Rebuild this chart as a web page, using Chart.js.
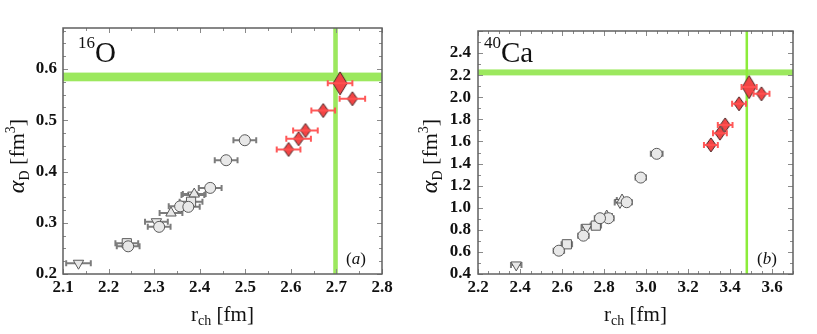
<!DOCTYPE html>
<html><head><meta charset="utf-8">
<script src="https://cdn.jsdelivr.net/npm/chart.js@4/dist/chart.umd.min.js"></script>
<style>
html,body{margin:0;padding:0;background:#fff;}
#wrap{position:relative;width:817px;height:334px;overflow:hidden;}
canvas{position:absolute;top:0;}
</style></head><body>
<div id="wrap">
<canvas id="c1" width="410" height="334" style="left:0"></canvas>
<canvas id="c2" width="407" height="334" style="left:410px"></canvas>
</div>
<script>
// ================= DATA: panel (a) 16O =================
const oTicksX = [2.1, 2.2, 2.3, 2.4, 2.5, 2.6, 2.7, 2.8];
const oTicksY = [0.2, 0.3, 0.4, 0.5, 0.6];
const oRedX    = [2.708, 2.735, 2.671, 2.632, 2.617, 2.595];
const oRedY    = [0.572, 0.542, 0.519, 0.480, 0.464, 0.443];
const oRedErr  = [0.027, 0.028, 0.026, 0.027, 0.027, 0.026];
const oCircX   = [2.499, 2.458, 2.423, 2.357, 2.375, 2.311, 2.243];
const oCircY   = [0.461, 0.422, 0.368, 0.332, 0.331, 0.292, 0.254];
const oCircErr = [0.025, 0.025, 0.025, 0.025, 0.025, 0.025, 0.025];
const oSqX     = [2.381, 2.240];
const oSqY     = [0.341, 0.260];
const oSqErr   = [0.025, 0.025];
const oUpX     = [2.337, 2.388];
const oUpY     = [0.319, 0.356];
const oUpErr   = [0.025, 0.025];
const oDnX     = [2.134, 2.305, 2.385];
const oDnY     = [0.221, 0.302, 0.354];
const oDnErr   = [0.027, 0.025, 0.025];
const oBandY   = [0.576, 0.593];
const oBandX   = [2.693, 2.703];

// ================= DATA: panel (b) 40Ca =================
const cTicksX = [2.2, 2.4, 2.6, 2.8, 3.0, 3.2, 3.4, 3.6];
const cTicksY = [0.4, 0.6, 0.8, 1.0, 1.2, 1.4, 1.6, 1.8, 2.0, 2.2, 2.4];
const cRedX    = [3.491, 3.550, 3.443, 3.377, 3.352, 3.309];
const cRedY    = [2.092, 2.031, 1.941, 1.750, 1.675, 1.569];
const cRedErr  = [0.036, 0.038, 0.033, 0.035, 0.033, 0.033];
const cCircX   = [3.051, 2.975, 2.908, 2.821, 2.781, 2.702, 2.585];
const cCircY   = [1.488, 1.273, 1.050, 0.905, 0.905, 0.747, 0.611];
const cCircErr = [0.028, 0.025, 0.025, 0.025, 0.025, 0.025, 0.025];
const cSqX     = [2.623, 2.761];
const cSqY     = [0.669, 0.838];
const cSqErr   = [0.025, 0.025];
const cUpX     = [2.886, 2.813];
const cUpY     = [1.070, 0.925];
const cUpErr   = [0.025, 0.025];
const cDnX     = [2.382, 2.718, 2.876];
const cDnY     = [0.482, 0.823, 1.048];
const cDnErr   = [0.025, 0.025, 0.025];
const cBandY   = [2.198, 2.252];
const cBandX   = [3.474, 3.486];

// ================= helpers =================
const SERIF = '"Liberation Serif", "DejaVu Serif", serif';
const GRAY_FILL = '#e8e8e8', GRAY_LINE = '#5a5a5a';
const RED_FILL = '#f24545', RED_LINE = '#4a2626', RED_ERR = 'rgba(255,80,80,0.95)', GRAY_ERR = '#7c7c7c';

function makeDiamond(w, h) {
  const c = document.createElement('canvas');
  c.width = w + 2; c.height = h + 2;
  const g = c.getContext('2d');
  g.beginPath();
  g.moveTo(c.width / 2, 1); g.lineTo(w + 1, c.height / 2);
  g.lineTo(c.width / 2, h + 1); g.lineTo(1, c.height / 2); g.closePath();
  g.fillStyle = RED_FILL; g.fill();
  g.lineWidth = 1; g.strokeStyle = RED_LINE; g.stroke();
  return c;
}
const bigDia = makeDiamond(14, 23);
const smallDia = makeDiamond(10, 14);

function pts(xs, ys) { return xs.map((x, i) => ({ x: x, y: ys[i] })); }

function grayDs(label, xs, ys, errs, style, r, rot) {
  return { label, data: pts(xs, ys), xerr: errs, pointStyle: style, pointRadius: r,
    rotation: rot || 0, backgroundColor: GRAY_FILL, borderColor: GRAY_LINE, borderWidth: 1,
    pointHoverRadius: r, showLine: false };
}
function redDs(xs, ys, errs) {
  return { label: 'red', red: true, data: pts(xs, ys), xerr: errs,
    pointStyle: xs.map((x, i) => i === 0 ? bigDia : smallDia), pointRadius: 6,
    backgroundColor: RED_FILL, borderColor: RED_LINE, showLine: false };
}

function drawRich(ctx, parts, x, y, align) {
  let w = 0;
  parts.forEach(p => { ctx.font = (p[3] || '') + ' ' + p[1] + 'px ' + SERIF; p.w = ctx.measureText(p[0]).width; w += p.w; });
  let cx = align === 'left' ? x : x - w / 2;
  ctx.textAlign = 'left'; ctx.textBaseline = 'alphabetic'; ctx.fillStyle = '#111';
  parts.forEach(p => { ctx.font = (p[3] || '') + ' ' + p[1] + 'px ' + SERIF; ctx.fillText(p[0], cx, y + p[2]); cx += p.w; });
}

function drawErr(chart, d) {
  const { ctx, scales: { x, y } } = chart;
  ctx.save();
  ctx.strokeStyle = d.red ? RED_ERR : GRAY_ERR; ctx.lineWidth = 2;
  d.data.forEach((p, j) => {
    const e = d.xerr[j];
    const xa = x.getPixelForValue(p.x - e), xb = x.getPixelForValue(p.x + e), py = y.getPixelForValue(p.y);
    ctx.beginPath();
    ctx.moveTo(xa, py); ctx.lineTo(xb, py);
    ctx.moveTo(xa, py - 3); ctx.lineTo(xa, py + 3);
    ctx.moveTo(xb, py - 3); ctx.lineTo(xb, py + 3);
    ctx.stroke();
  });
  ctx.restore();
}

function decoPlugin(o) {
  return {
    id: 'deco',
    beforeDatasetsDraw(chart) {
      const { ctx, chartArea: a, scales: { x, y } } = chart;
      ctx.save();
      ctx.beginPath(); ctx.rect(a.left, a.top, a.right - a.left, a.bottom - a.top); ctx.clip();
      const y0 = y.getPixelForValue(o.bandY[1]), y1 = y.getPixelForValue(o.bandY[0]);
      ctx.fillStyle = o.hColor; ctx.fillRect(a.left, y0, a.right - a.left, y1 - y0);
      const x0 = x.getPixelForValue(o.bandX[0]), x1 = x.getPixelForValue(o.bandX[1]);
      ctx.fillStyle = o.vColor; ctx.fillRect(x0, a.top, x1 - x0, a.bottom - a.top);
      chart.data.datasets.forEach(d => { if (!d.red) drawErr(chart, d); });
      ctx.restore();
    },
    afterDatasetsDraw(chart) {
      const { ctx, chartArea: a, scales: { x, y } } = chart;
      chart.data.datasets.forEach(d => { if (d.red) drawErr(chart, d); });
      ctx.save();
      // ticks on all four sides (inward)
      ctx.strokeStyle = '#8a8a8a'; ctx.lineWidth = 1;
      const nx = Math.round((x.max - x.min) / o.minorX);
      for (let k = 0; k <= nx; k++) {
        const px = Math.round(x.getPixelForValue(x.min + k * o.minorX)) + 0.5;
        const len = (k % o.majEveryX === 0) ? 5 : 3;
        ctx.beginPath();
        ctx.moveTo(px, a.bottom); ctx.lineTo(px, a.bottom - len);
        ctx.moveTo(px, a.top); ctx.lineTo(px, a.top + len);
        ctx.stroke();
      }
      const ny = Math.round((y.max - y.min) / o.minorY);
      for (let k = 0; k <= ny; k++) {
        const py = Math.round(y.getPixelForValue(y.min + k * o.minorY)) + 0.5;
        const len = (k % o.majEveryY === 0) ? 5 : 3;
        ctx.beginPath();
        ctx.moveTo(a.left, py); ctx.lineTo(a.left + len, py);
        ctx.moveTo(a.right, py); ctx.lineTo(a.right - len, py);
        ctx.stroke();
      }
      // frame
      ctx.strokeStyle = '#606060'; ctx.lineWidth = 1.5;
      ctx.strokeRect(a.left, a.top, a.right - a.left, a.bottom - a.top);
      // x title
      drawRich(ctx, [['r', 21, 0], ['ch', 14, 4], [' [fm]', 21, 0]], (a.left + a.right) / 2, 321);
      // y title (rotated)
      ctx.save();
      ctx.translate(o.yTitleX, 156); ctx.rotate(-Math.PI / 2);
      drawRich(ctx, [['α', 24, 0, 'italic'], ['D', 14, 5], [' [fm', 22, 0], ['3', 14, -9], [']', 22, 0]], 0, 7);
      ctx.restore();
      // panel label
      drawRich(ctx, [[o.iso, 17, -14], [o.el, 29, 0]], o.labelX, 62, 'left');
      // (a) / (b)
      drawRich(ctx, [['(', 17, 0], [o.tag, 17, 0, 'italic'], [')', 17, 0]], a.right - 26, 264);
      ctx.restore();
    }
  };
}

function makeChart(id, datasets, sc, o) {
  new Chart(document.getElementById(id), {
    type: 'scatter',
    data: { datasets },
    options: {
      responsive: false, animation: false, events: [],
      layout: { padding: sc.pad },
      plugins: { legend: { display: false }, tooltip: { enabled: false } },
      scales: {
        x: {
          type: 'linear', min: sc.xmin, max: sc.xmax,
          grid: { display: false, drawTicks: false }, border: { display: false },
          afterBuildTicks: s => { s.ticks = sc.ticksX.map(v => ({ value: v })); },
          afterFit: s => { s.height = 60; },
          ticks: { padding: 3, color: '#111', font: { family: SERIF, size: 17, weight: 'bold' },
                   callback: v => v.toFixed(1), maxRotation: 0, autoSkip: false }
        },
        y: {
          type: 'linear', min: sc.ymin, max: sc.ymax,
          grid: { display: false, drawTicks: false }, border: { display: false },
          afterBuildTicks: s => { s.ticks = sc.ticksY.map(v => ({ value: v })); },
          afterFit: s => { s.width = sc.yw; },
          ticks: { padding: sc.ypad, color: '#111', font: { family: SERIF, size: 17, weight: 'bold' },
                   callback: v => v.toFixed(1), autoSkip: false }
        }
      }
    },
    plugins: [decoPlugin(o)]
  });
}

makeChart('c1', [
  grayDs('circle', oCircX, oCircY, oCircErr, 'circle', 5.5),
  grayDs('square', oSqX, oSqY, oSqErr, 'rect', 6.5),
  grayDs('up', oUpX, oUpY, oUpErr, 'triangle', 6),
  grayDs('down', oDnX, oDnY, oDnErr, 'triangle', 6, 180),
  redDs(oRedX, oRedY, oRedErr)
], { xmin: 2.1, xmax: 2.8, ymin: 0.2, ymax: 0.68, ticksX: oTicksX, ticksY: oTicksY, yw: 63, ypad: 6,
     pad: { left: 0, right: 28, top: 28, bottom: 0 } },
   { bandX: oBandX, bandY: oBandY, hColor: '#9ce85e', vColor: '#9ce85e',
     minorX: 0.05, majEveryX: 2, minorY: 0.025, majEveryY: 4,
     yTitleX: 17, iso: '16', el: 'O', labelX: 78, tag: 'a' });

makeChart('c2', [
  grayDs('circle', cCircX, cCircY, cCircErr, 'circle', 5.5),
  grayDs('square', cSqX, cSqY, cSqErr, 'rect', 6.5),
  grayDs('up', cUpX, cUpY, cUpErr, 'triangle', 6),
  grayDs('down', cDnX, cDnY, cDnErr, 'triangle', 6, 180),
  redDs(cRedX, cRedY, cRedErr)
], { xmin: 2.2, xmax: 3.7, ymin: 0.4, ymax: 2.6, ticksX: cTicksX, ticksY: cTicksY, yw: 68, ypad: 7,
     pad: { left: 0, right: 24, top: 31, bottom: 0 } },
   { bandX: cBandX, bandY: cBandY, hColor: '#9ce85e', vColor: '#8cec3a',
     minorX: 0.05, majEveryX: 4, minorY: 0.1, majEveryY: 2,
     yTitleX: 20, iso: '40', el: 'Ca', labelX: 74, tag: 'b' });
</script>
</body></html>
